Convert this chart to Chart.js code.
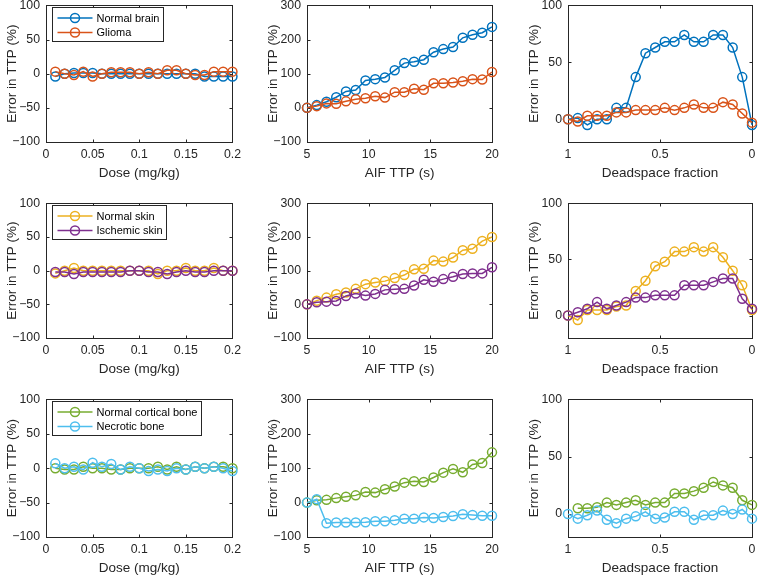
<!DOCTYPE html>
<html lang="en">
<head>
<meta charset="UTF-8">
<title>Error in TTP</title>
<script src="https://cdn.jsdelivr.net/npm/chart.js"></script>
<style>
  html, body { margin: 0; padding: 0; background: #fff; overflow: hidden; }
  #fig { position: relative; width: 758px; height: 576px; overflow: hidden; }
  #fig canvas { position: absolute; }
</style>
</head>
<body>
<div id="fig"></div>
<script>
// x values
const doseX = [0.01, 0.02, 0.03, 0.04, 0.05, 0.06, 0.07, 0.08, 0.09, 0.1, 0.11, 0.12, 0.13, 0.14, 0.15, 0.16, 0.17, 0.18, 0.19, 0.2];
const aifX = [5, 5.79, 6.58, 7.37, 8.16, 8.95, 9.74, 10.53, 11.32, 12.11, 12.89, 13.68, 14.47, 15.26, 16.05, 16.84, 17.63, 18.42, 19.21, 20];
const deadX = [1, 0.947, 0.895, 0.842, 0.789, 0.737, 0.684, 0.632, 0.579, 0.526, 0.474, 0.421, 0.368, 0.316, 0.263, 0.211, 0.158, 0.105, 0.053, 0];

// tick labels
const doseTicks = [0, 0.05, 0.1, 0.15, 0.2];
const aifTicks = [5, 10, 15, 20];
const deadTicks = [1, 0.5, 0];
const errTicksDose = [-100, -50, 0, 50, 100];
const errTicksAif = [-100, 0, 100, 200, 300];
const errTicksDead = [0, 50, 100];

// row 1: brain
const brainDose  = [-4, 0, 1, 1, 1, 0, 0, 0, 0, 0, 0, 0, 0, 0, 0, 0, -4, -4, -4, -4];
const gliomaDose = [3, 0, -2, 3, -4, 0, 2, 2, 2, 0, 2, 0, 5, 5, 0, -2, -2, 3, 3, 3];
const brainAif   = [0, 8, 18, 31, 48, 52, 80, 84, 89, 110, 131, 135, 141, 163, 172, 178, 205, 214, 220, 237];
const gliomaAif  = [0, 5, 13, 12, 19, 25, 28, 34, 30, 46, 46, 56, 53, 72, 72, 74, 78, 84, 83, 105];
const brainDead  = [0, 1, -5, 0, 0, 10, 10, 37, 58, 63, 68, 68, 74, 68, 68, 74, 74, 63, 37, -5];
const gliomaDead = [0, -2, 3, 3, 3, 6, 6, 8, 8, 8, 10, 8, 10, 13, 10, 10, 15, 13, 5, -3];

// row 2: skin
const skinDose = [-4, 0, 4, 0, 0, 0, 0, 0, 0, 0, 0, -5, 0, 0, 4, 0, 0, 4, 0, 0];
const ischDose = [-2, -2, -5, -2, -2, -2, -2, -2, 0, 0, -2, -2, -5, -2, 0, -2, -2, 0, 0, 0];
const skinAif  = [0, 11, 20, 30, 35, 46, 60, 65, 69, 78, 87, 104, 106, 130, 127, 139, 161, 165, 188, 200];
const ischAif  = [0, 6, 8, 10, 25, 32, 26, 31, 43, 45, 46, 56, 73, 67, 75, 82, 90, 92, 92, 110];
const skinDead = [0, -4, 5, 5, 5, 8, 9, 22, 31, 44, 48, 57, 57, 61, 57, 61, 52, 40, 27, 5];
const ischDead = [0, 3, 6, 12, 6, 9, 12, 16, 16, 18, 18, 18, 27, 27, 27, 30, 33, 33, 15, 6];

// row 3: bone
const boneDose  = [0, -2, -2, 2, 0, 0, -2, -2, 0, 0, 0, 2, -2, 2, -2, 2, 0, 2, 2, 0];
const necroDose = [7, 0, 2, -2, 8, 2, 6, -2, 2, 0, -4, -2, -4, 0, -2, 2, 0, 2, 0, -4];
const boneAif   = [0, 7, 8, 13, 17, 21, 31, 29, 39, 47, 58, 62, 60, 73, 87, 98, 88, 111, 115, 146];
const necroAif  = [0, 10, -60, -58, -58, -58, -57, -54, -54, -51, -47, -47, -43, -45, -42, -39, -34, -36, -38, -38];
const boneDead  = [null, 5, 5, 6, 10, 8, 10, 12, 8, 10, 10, 18, 18, 20, 23, 28, 25, 23, 12, 8];
const necroDead = [0, -4, -1, 3, -5, -8, -4, -2, 2, -4, -3, 2, 2, -5, -1, -1, 3, 0, 4, -4];

const FONT = '"Liberation Sans", Arial, Helvetica, sans-serif';
const INK = '#262626';
const C = {
  blue: '#0072BD', orange: '#D95319', yellow: '#EDB120',
  purple: '#7E2F8E', green: '#77AC30', cyan: '#4DBEEE'
};

// where each axes box should land on the page
const plotLeft = [46, 307, 568], plotW = [186, 185, 184];
const plotTop = [5, 203, 399], plotH = [137, 135, 138];

const fmt = v => String(v).replace('-', '\u2212');

// box, inward ticks and in-axes legend, MATLAB style
const matlabAxes = {
  id: 'matlabAxes',
  beforeDatasetsDraw(chart) {
    const { ctx, chartArea: a } = chart;
    const xs = chart.scales.x, ys = chart.scales.y;
    const L = Math.round(a.left) + 0.5, R = Math.round(a.right) + 0.5;
    const T = Math.round(a.top) + 0.5, B = Math.round(a.bottom) + 0.5;
    ctx.save();
    ctx.strokeStyle = INK;
    ctx.lineWidth = 1;
    ctx.beginPath();
    xs.ticks.forEach(t => {
      const p = Math.round(xs.getPixelForValue(t.value)) + 0.5;
      ctx.moveTo(p, B); ctx.lineTo(p, B - 3);
      ctx.moveTo(p, T); ctx.lineTo(p, T + 3);
    });
    ys.ticks.forEach(t => {
      const p = Math.round(ys.getPixelForValue(t.value)) + 0.5;
      ctx.moveTo(L, p); ctx.lineTo(L + 3, p);
      ctx.moveTo(R, p); ctx.lineTo(R - 3, p);
    });
    ctx.stroke();
    ctx.strokeRect(L, T, R - L, B - T);
    ctx.restore();
  },
  afterDraw(chart, args, opts) {
    if (!opts.legend) return;
    const { ctx, chartArea: a } = chart;
    const ds = chart.data.datasets;
    ctx.save();
    ctx.font = '11px ' + FONT;
    const tw = Math.max(...ds.map(d => ctx.measureText(d.label).width));
    const bx = Math.round(a.left) + 6.5, by = Math.round(a.top) + 2.5;
    const bw = Math.round(tw + 48), bh = 34;
    ctx.fillStyle = '#fff';
    ctx.fillRect(bx, by, bw, bh);
    ctx.strokeStyle = INK;
    ctx.lineWidth = 1;
    ctx.strokeRect(bx, by, bw, bh);
    ds.forEach((d, i) => {
      const y = by + 10.5 + i * 14.5;
      ctx.strokeStyle = d.borderColor;
      ctx.lineWidth = 1.5;
      ctx.beginPath();
      ctx.moveTo(bx + 5, y); ctx.lineTo(bx + 40, y);
      ctx.stroke();
      ctx.beginPath();
      ctx.arc(bx + 22.5, y, 4.5, 0, Math.PI * 2);
      ctx.stroke();
      ctx.fillStyle = '#000';
      ctx.textBaseline = 'middle';
      ctx.fillText(d.label, bx + 44, y + 0.5);
    });
    ctx.restore();
  }
};

function series(label, color, xs, ys, order) {
  return {
    label,
    data: xs.map((x, i) => ({ x, y: ys[i] })),
    borderColor: color,
    borderWidth: 1.5,
    pointRadius: 4.5,
    pointHoverRadius: 4.5,
    pointBorderWidth: 1.5,
    pointBackgroundColor: 'rgba(0,0,0,0)',
    pointBorderColor: color,
    tension: 0,
    clip: 10,
    order
  };
}

const rows = [
  { names: ['Normal brain', 'Glioma'], colors: [C.blue, C.orange],
    y: [[brainDose, gliomaDose], [brainAif, gliomaAif], [brainDead, gliomaDead]] },
  { names: ['Normal skin', 'Ischemic skin'], colors: [C.yellow, C.purple],
    y: [[skinDose, ischDose], [skinAif, ischAif], [skinDead, ischDead]] },
  { names: ['Normal cortical bone', 'Necrotic bone'], colors: [C.green, C.cyan],
    y: [[boneDose, necroDose], [boneAif, necroAif], [boneDead, necroDead]] }
];

const cols = [
  { xs: doseX, xTicks: doseTicks, xMin: 0, xMax: 0.2, rev: false, xTitle: 'Dose (mg/kg)',
    yTicks: errTicksDose, yMin: -100, yMax: 100 },
  { xs: aifX, xTicks: aifTicks, xMin: 5, xMax: 20, rev: false, xTitle: 'AIF TTP (s)',
    yTicks: errTicksAif, yMin: -100, yMax: 300 },
  { xs: deadX, xTicks: deadTicks, xMin: 0, xMax: 1, rev: true, xTitle: 'Deadspace fraction',
    yTicks: errTicksDead, yMin: -20, yMax: 100 }
];

const fig = document.getElementById('fig');
const tickFont = { family: FONT, size: 12.3 };
const titleFont = { family: FONT, size: 13.5 };

rows.forEach((row, r) => {
  cols.forEach((col, c) => {
    const cv = document.createElement('canvas');
    const w = 46 + plotW[c] + 12, h = 9 + plotH[r] + 42;
    cv.width = w; cv.height = h;
    fig.appendChild(cv);

    const chart = new Chart(cv, {
      type: 'line',
      data: {
        datasets: [
          series(row.names[0], row.colors[0], col.xs, row.y[c][0], 1),
          series(row.names[1], row.colors[1], col.xs, row.y[c][1], 0)
        ]
      },
      options: {
        responsive: false,
        maintainAspectRatio: false,
        animation: false,
        devicePixelRatio: 1,
        layout: { padding: { top: 9, right: 12, left: 0, bottom: 0 } },
        plugins: {
          legend: { display: false },
          tooltip: { enabled: false },
          matlabAxes: { legend: c === 0 }
        },
        scales: {
          x: {
            type: 'linear',
            min: col.xMin, max: col.xMax, reverse: col.rev,
            afterBuildTicks: s => { s.ticks = col.xTicks.map(v => ({ value: v })); },
            afterFit: s => { s.height = 42; },
            grid: { display: false, drawTicks: false },
            border: { display: false },
            ticks: { padding: 5, color: INK, font: tickFont, maxRotation: 0, autoSkip: false, callback: v => fmt(v) },
            title: { display: true, text: col.xTitle, color: INK, font: titleFont, padding: { top: 0, bottom: 3 } }
          },
          y: {
            type: 'linear',
            min: col.yMin, max: col.yMax,
            afterBuildTicks: s => { s.ticks = col.yTicks.map(v => ({ value: v })); },
            afterFit: s => { s.width = 46; },
            grid: { display: false, drawTicks: false },
            border: { display: false },
            ticks: { padding: 6, color: INK, font: tickFont, autoSkip: false, callback: v => fmt(v) },
            title: { display: true, text: 'Error in TTP (%)', color: INK, font: titleFont, padding: { top: 4, bottom: 0 } }
          }
        }
      },
      plugins: [matlabAxes]
    });

    // grow the canvas so the plot box has the wanted size, then place it on the page
    const a0 = chart.chartArea;
    chart.resize(Math.round(w + plotW[c] - (a0.right - a0.left)), Math.round(h + plotH[r] - (a0.bottom - a0.top)));
    const a1 = chart.chartArea;
    cv.style.left = (plotLeft[c] - a1.left) + 'px';
    cv.style.top = (plotTop[r] - a1.top) + 'px';
  });
});
</script>
</body>
</html>
